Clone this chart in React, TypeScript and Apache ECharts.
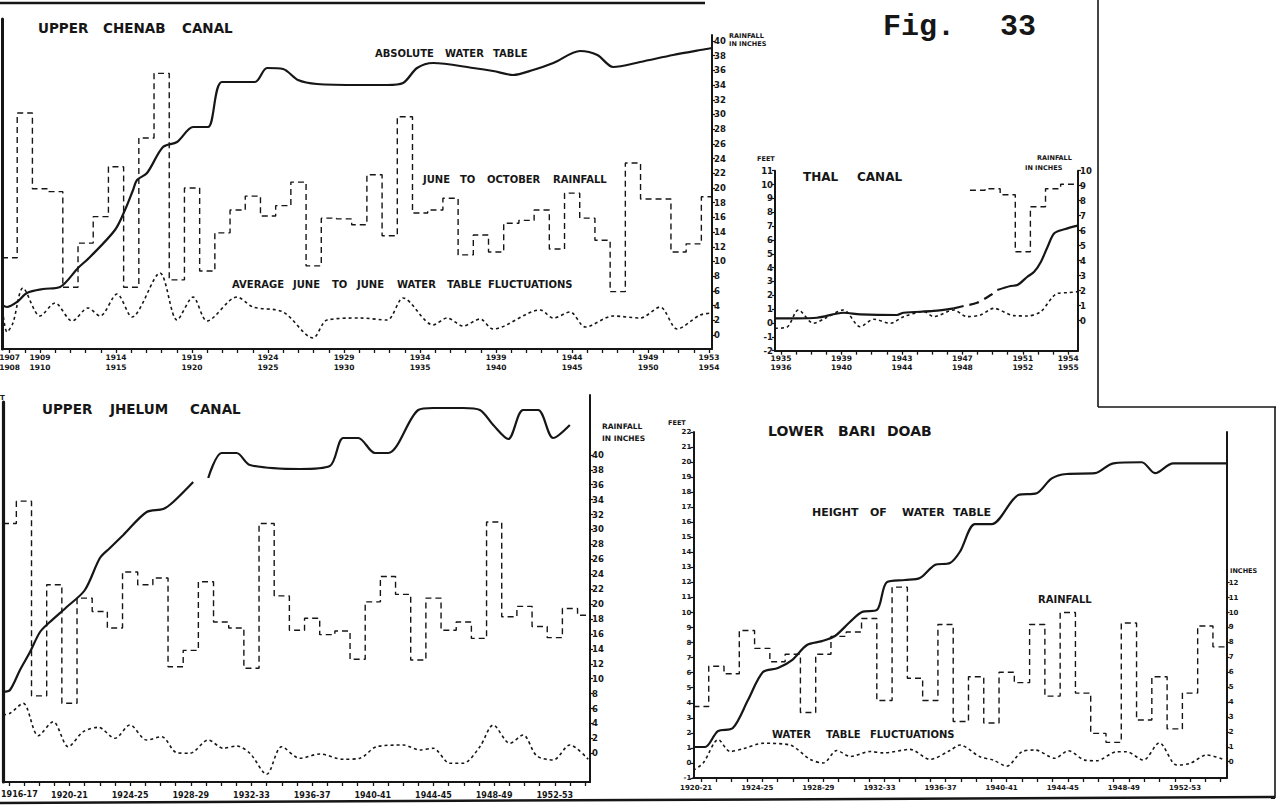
import React, { useEffect, useRef } from 'react';
import * as echarts from 'echarts';

const INK = '#161616';
const FONT = 'DejaVu Sans';

// ---------------- Upper Chenab Canal ----------------
const ucLabelYears = [1907, 1909, 1914, 1919, 1924, 1929, 1934, 1939, 1944, 1949, 1953];
const ucRainTicks = [0, 2, 4, 6, 8, 10, 12, 14, 16, 18, 20, 22, 24, 26, 28, 30, 32, 34, 36, 38, 40];
const ucWaterYears = [1906.5, 1906.83, 1907.49, 1908.14, 1909.2, 1910.32, 1911.5, 1912.29, 1913.93, 1914.59, 1915.12, 1915.38, 1916.04, 1917.09, 1918.01, 1919.07, 1920.05, 1920.97, 1923.14, 1923.93, 1924.99, 1925.97, 1927.22, 1930.05, 1931.83, 1932.88, 1933.8, 1934.86, 1937.49, 1938.8, 1940.12, 1941.43, 1942.76, 1944.53, 1945.66, 1946.7, 1948.47, 1950.64, 1952.42, 1953.2];
const ucWaterFeet = [0.4, 0.2, 0.7, 1.6, 2.0, 2.2, 4.1, 5.2, 7.9, 9.9, 11.9, 12.9, 13.6, 16.2, 16.7, 18.2, 18.2, 22.7, 22.7, 24.1, 24.0, 22.9, 22.5, 22.4, 22.4, 22.6, 24.1, 24.6, 24.1, 23.8, 23.4, 23.9, 24.6, 25.8, 25.4, 24.2, 24.7, 25.4, 25.9, 26.1];
const ucFluctYears = [1906.5, 1906.83, 1907.22, 1907.88, 1909.0, 1909.99, 1911.11, 1912.16, 1912.95, 1914.07, 1915.05, 1916.89, 1918.01, 1919.07, 1919.99, 1921.96, 1923.01, 1924.99, 1926.96, 1927.88, 1930.05, 1931.83, 1932.88, 1934.86, 1935.78, 1936.83, 1937.95, 1938.8, 1941.9, 1942.76, 1943.87, 1944.86, 1946.7, 1948.47, 1949.79, 1950.91, 1952.42, 1953.2];
const ucFluctFeet = [0.4, -2.3, -1.4, 2.1, -0.7, 0.6, -1.2, 0.1, -0.7, 1.5, -0.8, 3.6, -1.1, 1.2, -1.2, 1.2, 0.2, -0.3, -2.9, -1.1, -0.9, -1.1, 1.1, -1.6, -0.9, -1.7, -1.0, -2.0, -0.1, -0.9, -0.3, -1.8, -0.7, -0.9, 0.2, -2.0, -0.6, -0.4];
const ucRainYears = [1907, 1908, 1909, 1910, 1911, 1912, 1913, 1914, 1915, 1916, 1917, 1918, 1919, 1920, 1921, 1922, 1923, 1924, 1925, 1926, 1927, 1928, 1929, 1930, 1931, 1932, 1933, 1934, 1935, 1936, 1937, 1938, 1939, 1940, 1941, 1942, 1943, 1944, 1945, 1946, 1947, 1948, 1949, 1950, 1951, 1952, 1953];
const ucRainInches = [10.5, 30.2, 19.9, 19.5, 6.5, 12.5, 16.1, 22.9, 6.5, 26.8, 35.6, 7.5, 20.0, 8.7, 13.9, 17.0, 18.9, 16.2, 17.6, 20.8, 9.4, 15.9, 15.8, 15.0, 21.8, 13.5, 29.7, 16.6, 17.0, 18.6, 10.9, 13.6, 11.3, 15.2, 15.6, 17.0, 11.7, 19.3, 15.9, 12.9, 5.9, 23.4, 18.5, 18.5, 11.3, 12.4, 18.8];

// ---------------- Thal Canal ----------------
const thalLabelYears = [1935, 1939, 1943, 1947, 1951, 1954];
const thalFeetTicks = [-2, -1, 0, 1, 2, 3, 4, 5, 6, 7, 8, 9, 10, 11];
const thalRainTicks = [0, 1, 2, 3, 4, 5, 6, 7, 8, 9, 10];
const thalWaterYears = [1934.6, 1936.04, 1937.37, 1939.13, 1940.24, 1942.67, 1943.11, 1945.1, 1946.43, 1947.1, 1947.98, 1948.87, 1949.31, 1950.19, 1950.64, 1951.3, 1951.75, 1952.2, 1952.64, 1953.08, 1953.75, 1954.63];
const thalWaterFeet = [0.34, 0.34, 0.38, 0.74, 0.63, 0.58, 0.74, 0.87, 1.06, 1.23, 1.47, 2.02, 2.38, 2.67, 2.74, 3.34, 3.7, 4.43, 5.51, 6.48, 6.77, 7.03];
const thalEstimatedSpan = [1946.43, 1949.31];
const thalFluctYears = [1934.6, 1935.37, 1936.15, 1937.14, 1937.92, 1939.13, 1940.24, 1941.12, 1942.23, 1943.11, 1944.44, 1945.1, 1946.43, 1947.31, 1948.2, 1949.08, 1950.41, 1951.3, 1952.18, 1953.29, 1953.95, 1954.63];
const thalFluctFeet = [-0.38, -0.31, 0.94, -0.02, 0.34, 0.94, -0.27, 0.27, -0.02, 0.46, 0.82, 0.46, 0.94, 0.46, 0.58, 1.06, 0.53, 0.51, 0.82, 2.14, 2.19, 2.26];
const thalRainYears = [1948, 1949, 1950, 1951, 1952, 1953, 1954];
const thalRainInches = [8.7, 8.8, 8.4, 4.6, 7.6, 8.8, 9.1];

// ---------------- Upper Jhelum Canal ----------------
const ujLabelYears = [1916, 1920, 1924, 1928, 1932, 1936, 1940, 1944, 1948, 1952];
const ujRainTicks = [0, 2, 4, 6, 8, 10, 12, 14, 16, 18, 20, 22, 24, 26, 28, 30, 32, 34, 36, 38, 40];
const ujWaterYears = [1915.62, 1916.08, 1916.74, 1917.4, 1918.06, 1918.71, 1919.82, 1921.02, 1922.01, 1922.67, 1923.55, 1925.09, 1926.18, 1926.84, 1928.16, 1928.65, 1929.15, 1930.03, 1931.02, 1931.9, 1935.19, 1937.17, 1938.05, 1939.04, 1940.14, 1941.02, 1943.0, 1943.98, 1945.96, 1947.06, 1947.94, 1948.93, 1949.91, 1950.9, 1951.89, 1952.99];
const ujWaterFeet = [5.0, 5.2, 7.2, 9.0, 11.0, 12.0, 13.5, 15.2, 18.4, 19.4, 20.7, 23.0, 23.3, 24.0, 26.0, null, 26.4, 28.9, 28.9, 27.7, 27.3, 27.6, 30.4, 30.4, 28.9, 28.9, 33.2, 33.4, 33.4, 33.2, 31.7, 30.3, 33.2, 33.2, 30.4, 31.7];
const ujFluctYears = [1915.62, 1916.08, 1916.95, 1917.94, 1918.93, 1919.92, 1920.91, 1921.9, 1923.0, 1923.99, 1925.09, 1926.08, 1927.07, 1927.94, 1929.15, 1930.14, 1931.02, 1931.9, 1933.0, 1933.99, 1935.19, 1936.51, 1938.05, 1939.15, 1940.25, 1942.0, 1943.1, 1943.98, 1945.08, 1945.96, 1947.06, 1947.94, 1949.04, 1949.91, 1950.8, 1951.89, 1952.99, 1954.2];
const ujFluctFeet = [2.7, 2.87, 3.87, 0.63, 2.03, -0.47, 1.03, 1.47, 0.37, 1.7, 0.2, 0.53, -1.07, -1.13, 0.2, -0.63, -0.4, -1.13, -3.23, -0.47, -1.63, -1.2, -1.73, -1.63, -0.47, -0.3, -0.8, -0.63, -2.13, -2.13, -0.47, 1.7, -0.13, 0.7, -1.37, -1.8, -0.3, -1.73];
const ujRainYears = [1916, 1917, 1918, 1919, 1920, 1921, 1922, 1923, 1924, 1925, 1926, 1927, 1928, 1929, 1930, 1931, 1932, 1933, 1934, 1935, 1936, 1937, 1938, 1939, 1940, 1941, 1942, 1943, 1944, 1945, 1946, 1947, 1948, 1949, 1950, 1951, 1952, 1953, 1954];
const ujRainInches = [30.8, 33.8, 7.7, 22.6, 6.7, 20.8, 19.0, 16.8, 24.3, 22.6, 23.5, 11.6, 13.8, 23.0, 17.6, 16.8, 11.4, 30.8, 21.1, 16.5, 18.1, 15.9, 16.4, 12.6, 20.3, 23.7, 21.3, 12.5, 20.8, 16.5, 17.6, 15.4, 31.0, 18.3, 19.7, 17.0, 15.5, 19.4, 18.5];

// ---------------- Lower Bari Doab ----------------
const lbLabelYears = [1920, 1924, 1928, 1932, 1936, 1940, 1944, 1948, 1952];
const lbFeetTicks = [-1, 0, 1, 2, 3, 4, 5, 6, 7, 8, 9, 10, 11, 12, 13, 14, 15, 16, 17, 18, 19, 20, 21, 22];
const lbRainTicks = [0, 1, 2, 3, 4, 5, 6, 7, 8, 9, 10, 11, 12];
const lbWaterYears = [1919.49, 1920.26, 1921.1, 1922.08, 1923.07, 1924.05, 1925.03, 1925.95, 1926.93, 1927.91, 1928.76, 1929.74, 1930.53, 1931.51, 1932.16, 1933.34, 1934.32, 1935.3, 1936.29, 1936.94, 1937.93, 1939.02, 1940.76, 1941.96, 1942.95, 1943.93, 1945.78, 1946.98, 1948.84, 1949.71, 1950.9, 1954.4];
const lbWaterFeet = [1.06, 1.06, 2.12, 2.32, 4.18, 6.04, 6.31, 6.84, 7.84, 8.1, 8.44, 9.37, 10.03, 10.17, 12.02, 12.16, 12.29, 13.16, 13.29, 14.04, 15.88, 15.88, 17.81, 17.93, 18.92, 19.21, 19.26, 19.92, 19.99, 19.26, 19.92, 19.92];
const lbFluctYears = [1919.49, 1920.14, 1921.13, 1921.9, 1922.77, 1924.08, 1925.82, 1927.13, 1928.0, 1928.88, 1929.75, 1931.06, 1931.93, 1933.68, 1934.98, 1936.29, 1936.94, 1938.25, 1939.12, 1940.0, 1940.98, 1941.85, 1943.16, 1944.03, 1945.12, 1945.89, 1947.2, 1947.85, 1948.94, 1949.99, 1951.13, 1952.0, 1953.09, 1954.18];
const lbFluctFeet = [-0.5, 0.0, 1.55, 0.76, 0.95, 1.31, 1.19, 0.24, 0.0, 0.83, 0.43, 0.76, 0.67, 0.9, 0.24, 0.83, 1.19, 0.41, 0.19, -0.21, 0.74, 0.86, 0.31, 0.81, 0.19, 0.15, 0.74, 0.74, 0.19, 1.34, -0.14, -0.03, 0.53, 0.24];
const lbRainYears = [1920, 1921, 1922, 1923, 1924, 1925, 1926, 1927, 1928, 1929, 1930, 1931, 1932, 1933, 1934, 1935, 1936, 1937, 1938, 1939, 1940, 1941, 1942, 1943, 1944, 1945, 1946, 1947, 1948, 1949, 1950, 1951, 1952, 1953, 1954];
const lbRainInches = [3.7, 6.4, 5.9, 8.8, 7.6, 6.7, 7.2, 3.3, 7.2, 8.4, 8.7, 9.6, 4.1, 11.7, 5.6, 4.1, 9.2, 2.7, 5.7, 2.6, 6.0, 5.3, 9.2, 4.4, 10.0, 4.6, 1.9, 1.3, 9.3, 2.8, 5.7, 2.2, 4.6, 9.1, 7.7];

// ---------------- helpers ----------------
const range = (a: number, b: number, s = 1) => {
  const r: number[] = [];
  for (let v = a; v <= b + 1e-9; v += s) r.push(Math.round(v * 100) / 100);
  return r;
};
const pairs = (xs: number[], ys: (number | null)[]) => xs.map((x, i) => [x, ys[i]]);
const steps = (years: number[], vals: number[], min: number, max: number) => {
  const pts: number[][] = years.map((y, i) => [Math.max(y - 0.5, min), vals[i]]);
  pts.push([Math.min(years[years.length - 1] + 0.5, max), vals[vals.length - 1]]);
  return pts;
};

const STYLE = {
  water: { color: INK, width: 2.2, type: 'solid' },
  estimated: { color: INK, width: 2.2, type: [10, 6] },
  fluct: { color: INK, width: 1.6, type: [3, 3] },
  rain: { color: INK, width: 1.4, type: [6, 4] },
};

const series = (xi: number, yi: number, data: any[], kind: 'water' | 'estimated' | 'fluct' | 'rain') => ({
  type: 'line',
  xAxisIndex: xi,
  yAxisIndex: yi,
  data,
  symbol: 'none',
  silent: true,
  animation: false,
  connectNulls: false,
  smooth: kind === 'rain' ? false : 0.3,
  step: kind === 'rain' ? 'end' : false,
  lineStyle: STYLE[kind],
  z: kind === 'water' ? 3 : 2,
});

const xShown = (grid: number, min: number, max: number, ticks: number[], labels: number[], formatter: any, fontSize: number, lineHeight: number, margin: number, padding: number[] = [0, 0, 0, 0]) => ({
  type: 'value',
  gridIndex: grid,
  min,
  max,
  axisLine: { show: true, onZero: false, lineStyle: { color: INK, width: 2 } },
  axisTick: { show: true, customValues: ticks, length: 4, lineStyle: { color: INK, width: 1.3 } },
  axisLabel: { show: true, customValues: labels, formatter, color: INK, fontFamily: FONT, fontWeight: 'bold', fontSize, lineHeight, margin, padding },
  splitLine: { show: false },
});
const xHidden = (grid: number, min: number, max: number) => ({ type: 'value', gridIndex: grid, min, max, show: false });

const yAx = (grid: number, position: string, min: number, max: number, labels: number[], fontSize: number, lineWidth: number) => ({
  type: 'value',
  gridIndex: grid,
  position,
  min,
  max,
  axisLine: { show: true, onZero: false, lineStyle: { color: INK, width: lineWidth } },
  axisTick: labels.length ? { show: true, customValues: labels, length: 3, lineStyle: { color: INK, width: 1.2 } } : { show: false },
  axisLabel: labels.length ? { show: true, customValues: labels, color: INK, fontFamily: FONT, fontWeight: 'bold', fontSize, margin: 2 } : { show: false },
  splitLine: { show: false },
});

const txt = (text: string, x: number, cy: number, size: number, family = FONT) => ({
  type: 'text',
  x,
  y: cy - size * 0.55,
  silent: true,
  style: { text, fill: INK, font: `bold ${size}px "${family}"` },
});
const words = (list: [string, number][], cy: number, size: number) => list.map(([w, x]) => txt(w, x, cy, size));
const rule = (x1: number, y1: number, x2: number, y2: number, w: number) => ({
  type: 'line',
  silent: true,
  shape: { x1, y1, x2, y2 },
  style: { stroke: INK, lineWidth: w },
});

const twoLine = (v: number) => `${Math.round(v)}\n${Math.round(v) + 1}`;
const hyphen = (v: number) => `${Math.round(v)}-${String(Math.round(v) + 1).slice(2)}`;

function buildOption() {
  const UC = { min: 1906.5, max: 1953.2 };
  const TH = { min: 1934.6, max: 1954.65 };
  const UJ = { min: 1915.62, max: 1954.32 };
  const LB = { min: 1919.49, max: 1954.4 };

  const thSolid = thalWaterYears.map((y, i) => [y, y > thalEstimatedSpan[0] && y < thalEstimatedSpan[1] ? null : thalWaterFeet[i]]);
  const thDash = thalWaterYears
    .map((y, i) => [y, thalWaterFeet[i]])
    .filter(([y]) => y >= thalEstimatedSpan[0] && y <= thalEstimatedSpan[1]);

  const grid = [
    { left: 2, top: 19, width: 710, height: 330 },
    { left: 2, top: 35, width: 710, height: 314 },
    { left: 775, top: 170.7, width: 303, height: 180 },
    { left: 3, top: 402, width: 587, height: 380 },
    { left: 3, top: 395, width: 587, height: 387 },
    { left: 693.3, top: 432, width: 533.4, height: 346 },
  ].map((g) => ({ ...g, containLabel: false, outerBoundsMode: 'none', show: false }));

  // the first Upper Jhelum label sits at the page edge; it is drawn as a left-aligned text below
  const ujAxisLabels = ujLabelYears.slice(1);

  const xAxis = [
    xShown(0, UC.min, UC.max, range(1907, 1953), ucLabelYears, twoLine, 7.5, 9.5, 4),
    xHidden(1, UC.min, UC.max),
    xShown(2, TH.min, TH.max, range(1935, 1954), thalLabelYears, twoLine, 7.5, 9.5, 3),
    xShown(3, UJ.min, UJ.max, range(1916, 1954), ujAxisLabels, hyphen, 8, 10, 8),
    xHidden(4, UJ.min, UJ.max),
    xShown(5, LB.min, LB.max, range(1920, 1954), lbLabelYears, hyphen, 7, 9, 5, [0, 10, 0, 0]),
  ];

  const yAxis = [
    yAx(0, 'left', -4, 29, [], 9, 3),
    yAx(1, 'right', -1.905, 40.816, ucRainTicks, 8.5, 2),
    yAx(2, 'left', -2, 11, thalFeetTicks, 8.5, 2),
    yAx(2, 'right', -2, 10, thalRainTicks, 8.5, 2),
    yAx(3, 'left', -4, 34, [], 9, 3.2),
    yAx(4, 'right', -3.85, 48.03, ujRainTicks, 8.5, 2),
    yAx(5, 'left', -1, 22, lbFeetTicks, 7, 2),
    yAx(5, 'right', -1.09, 22.1, lbRainTicks, 7, 2),
  ];

  const allSeries = [
    series(0, 0, pairs(ucWaterYears, ucWaterFeet), 'water'),
    series(0, 0, pairs(ucFluctYears, ucFluctFeet), 'fluct'),
    series(1, 1, steps(ucRainYears, ucRainInches, UC.min, UC.max), 'rain'),

    series(2, 2, thSolid, 'water'),
    series(2, 2, thDash, 'estimated'),
    series(2, 2, pairs(thalFluctYears, thalFluctFeet), 'fluct'),
    series(2, 3, steps(thalRainYears, thalRainInches, TH.min, TH.max), 'rain'),

    series(3, 4, pairs(ujWaterYears, ujWaterFeet), 'water'),
    series(3, 4, pairs(ujFluctYears, ujFluctFeet), 'fluct'),
    series(4, 5, steps(ujRainYears, ujRainInches, UJ.min, UJ.max), 'rain'),

    series(5, 6, pairs(lbWaterYears, lbWaterFeet), 'water'),
    series(5, 6, pairs(lbFluctYears, lbFluctFeet), 'fluct'),
    series(5, 7, steps(lbRainYears, lbRainInches, LB.min, LB.max), 'rain'),
  ];

  const graphic = [
    // frame
    rule(0, 3, 705, 3, 2.5),
    rule(1098, 0, 1098, 407, 1.6),
    rule(1098, 407, 1276, 407, 1.6),
    rule(1275, 407, 1275, 798, 1.6),
    rule(0, 803, 1275, 797, 2.5),
    // Upper Chenab
    ...words([['UPPER', 38], ['CHENAB', 103], ['CANAL', 182]], 28, 13.5),
    ...words([['ABSOLUTE', 375], ['WATER', 445], ['TABLE', 493]], 54, 10),
    ...words([['JUNE', 423], ['TO', 460], ['OCTOBER', 487], ['RAINFALL', 553]], 180, 10),
    ...words([['AVERAGE', 232], ['JUNE', 293], ['TO', 332], ['JUNE', 357], ['WATER', 397], ['TABLE', 447], ['FLUCTUATIONS', 488]], 285, 10),
    txt('RAINFALL', 729, 36, 6.5),
    txt('IN INCHES', 729, 44, 6.5),
    txt('Fig.', 883, 28, 30, 'Liberation Mono'),
    txt('33', 1000, 28, 30, 'Liberation Mono'),
    // Thal
    txt('FEET', 757, 159, 6.5),
    ...words([['THAL', 803], ['CANAL', 857]], 178, 12),
    txt('RAINFALL', 1037, 158, 6.5),
    txt('IN INCHES', 1025, 168, 6.5),
    // Upper Jhelum
    txt('T', 0, 398, 7),
    ...words([['UPPER', 42], ['JHELUM', 110], ['CANAL', 190]], 409, 13.5),
    txt('RAINFALL', 602, 427, 7.5),
    txt('IN INCHES', 602, 439, 7.5),
    txt(hyphen(ujLabelYears[0]), 1, 795, 8),
    // Lower Bari Doab
    txt('FEET', 668, 423, 6.5),
    ...words([['LOWER', 768], ['BARI', 838], ['DOAB', 887]], 432, 14),
    ...words([['HEIGHT', 812], ['OF', 870], ['WATER', 902], ['TABLE', 953]], 513, 11),
    txt('RAINFALL', 1038, 600, 10),
    ...words([['WATER', 772], ['TABLE', 826], ['FLUCTUATIONS', 870]], 735, 10),
    txt('INCHES', 1230, 571, 6.5),
  ];

  return {
    animation: false,
    backgroundColor: '#ffffff',
    grid,
    xAxis,
    yAxis,
    series: allSeries,
    graphic,
  };
}

export default function App() {
  const ref = useRef<HTMLDivElement>(null);
  useEffect(() => {
    if (!ref.current) return;
    const chart = echarts.init(ref.current, null, { renderer: 'svg' });
    chart.setOption(buildOption() as any);
    return () => chart.dispose();
  }, []);
  return <div ref={ref} style={{ position: 'fixed', left: 0, top: 0, width: 1280, height: 806, background: '#fff' }} />;
}
